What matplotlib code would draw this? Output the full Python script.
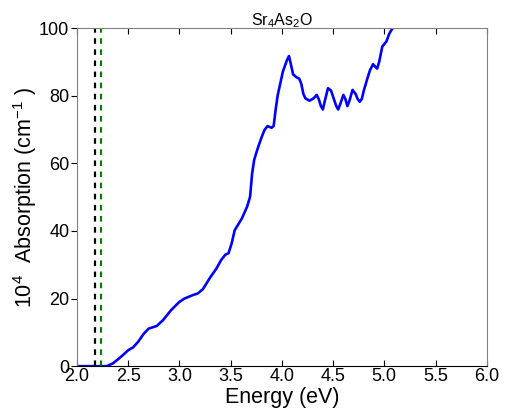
import matplotlib
matplotlib.use('Agg')
import matplotlib.pyplot as plt

plt.rcParams['font.family'] = ['Liberation Sans', 'DejaVu Sans']
plt.rcParams['mathtext.default'] = 'regular'

# absorption spectrum
energy = [2.00, 2.29, 2.35, 2.40, 2.45, 2.50, 2.55, 2.60, 2.65, 2.70, 2.75, 2.78,
          2.84, 2.92, 3.00, 3.05, 3.13, 3.18, 3.23, 3.30, 3.36, 3.41, 3.45, 3.48,
          3.51, 3.54, 3.61, 3.66, 3.69, 3.71, 3.73, 3.75, 3.77, 3.80, 3.83, 3.86,
          3.90, 3.92, 3.94, 3.96, 4.01, 4.05, 4.07, 4.09, 4.11, 4.14, 4.17, 4.19,
          4.21, 4.23, 4.27, 4.31, 4.34, 4.36, 4.38, 4.40, 4.42, 4.45, 4.48, 4.50,
          4.53, 4.55, 4.57, 4.60, 4.62, 4.64, 4.66, 4.69, 4.72, 4.74, 4.76, 4.78,
          4.80, 4.83, 4.86, 4.89, 4.91, 4.93, 4.95, 4.98, 5.02, 5.05, 5.09, 5.12]
absorption = [0.0, 0.0, 0.8, 2.0, 3.3, 4.7, 5.6, 7.3, 9.5, 11.1, 11.6, 11.9,
              13.6, 16.6, 19.0, 20.0, 21.0, 21.5, 22.8, 26.2, 28.8, 31.5, 33.0, 33.4,
              36.3, 40.2, 43.7, 47.1, 50.1, 57.0, 61.0, 63.0, 64.9, 67.5, 69.8, 71.0,
              70.5, 71.0, 76.0, 80.2, 87.1, 90.5, 91.7, 89.0, 86.3, 85.5, 85.0, 83.5,
              80.5, 79.2, 78.5, 79.2, 80.2, 79.0, 77.0, 75.9, 78.5, 82.2, 81.5, 79.7,
              77.0, 75.9, 77.5, 80.2, 79.0, 76.9, 78.5, 81.7, 80.5, 79.0, 78.2, 79.0,
              81.5, 84.6, 87.5, 89.3, 88.6, 88.0, 90.0, 94.5, 96.0, 98.4, 100.4, 103.0]

gap_black = 2.18
gap_green = 2.235

fig = plt.figure(figsize=(5.06, 4.18), dpi=100)
ax = fig.add_axes([0.152, 0.124, 0.810, 0.809])

ax.plot(energy, absorption, color='blue', lw=1.9)
ax.axvline(gap_black, color='black', lw=1.6, ls=(0, (2.5, 2.5)))
ax.axvline(gap_green, color='green', lw=1.6, ls=(0, (2.5, 2.5)))

ax.set_xlim(2.0, 6.0)
ax.set_ylim(0, 100)
ax.set_xticks([2.0, 2.5, 3.0, 3.5, 4.0, 4.5, 5.0, 5.5, 6.0])
ax.set_yticks([0, 20, 40, 60, 80, 100])

for side in ['left', 'top', 'right']:
    ax.spines[side].set_color('#808080')
ax.spines['bottom'].set_color('black')

ax.tick_params(axis='x', direction='in', top=True, labelsize=13, pad=1.5, length=4)
ax.tick_params(axis='y', direction='out', labelsize=13, pad=1.5, length=4)

ax.set_title('Sr$_4$As$_2$O', fontsize=11.5, pad=2)
ax.set_xlabel('Energy (eV)', fontsize=15.5, labelpad=1.5)
ax.set_ylabel('10$^4$  Absorption (cm$^{-1}$ )', fontsize=15.5, labelpad=0)

fig.savefig('out.png', dpi=100)
